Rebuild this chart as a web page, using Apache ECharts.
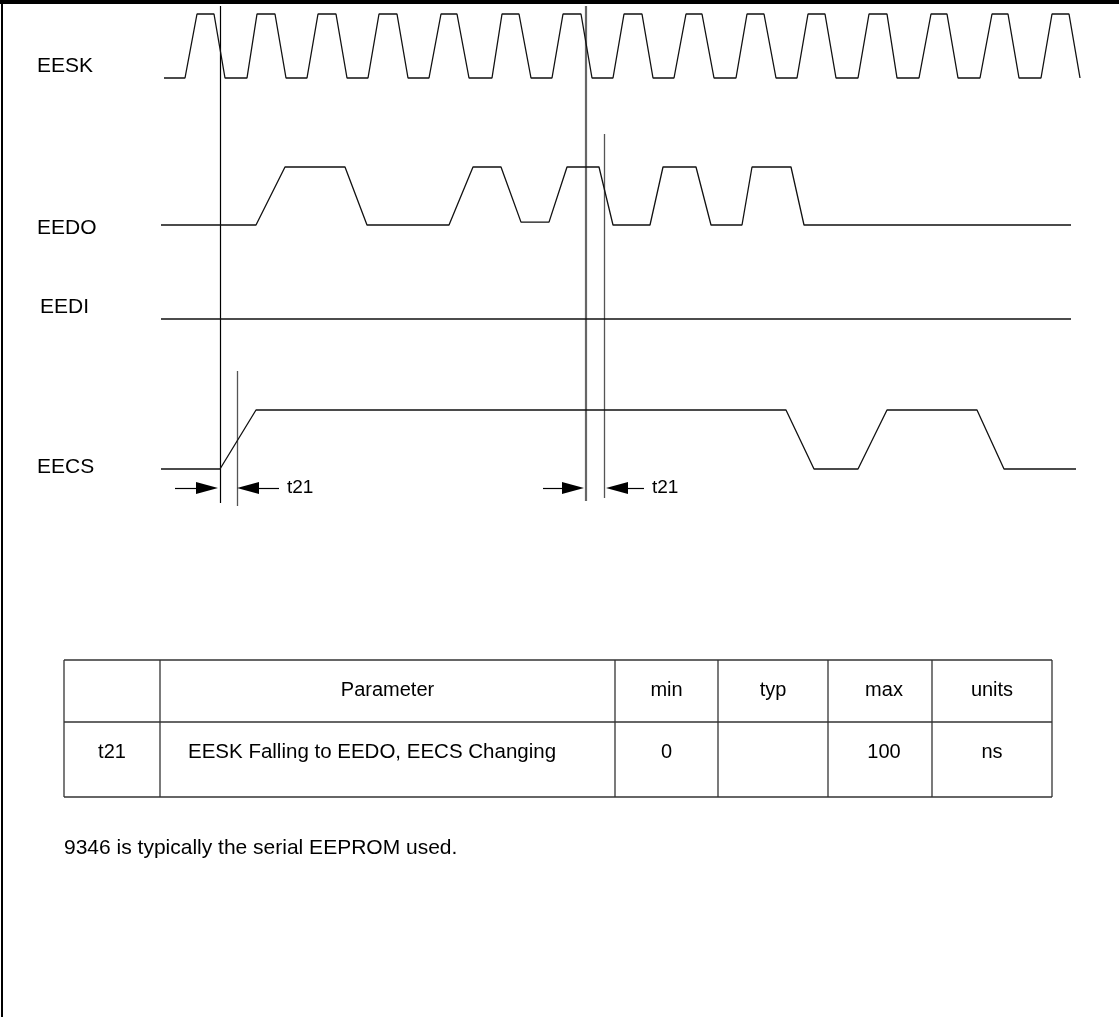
<!DOCTYPE html>
<html>
<head>
<meta charset="utf-8">
<script src="https://cdn.jsdelivr.net/npm/echarts@6/dist/echarts.min.js"></script>
<style>
  html, body { margin: 0; padding: 0; background: #fff; }
  #chart { width: 1119px; height: 1017px; }
</style>
</head>
<body>
<div id="chart"></div>
<script>
// signal names
const signals = ['EESK', 'EEDO', 'EEDI', 'EECS']

// waveform breakpoints: time and logic level (0 low, 1 high)
const eeskTimes = [164, 185, 197, 214, 225, 247, 257, 275, 286, 307, 318, 336, 347, 368, 379, 397,
  408, 429, 441, 457, 469, 492, 502, 519, 531, 552, 563, 581, 592, 613, 624, 642, 653, 674, 686,
  702, 714, 736, 747, 764, 776, 797, 808, 825, 836, 858, 869, 887, 897, 919, 931, 947, 958, 980,
  992, 1008, 1019, 1041, 1052, 1069, 1080]
const eeskLevels = [0, 0, 1, 1, 0, 0, 1, 1, 0, 0, 1, 1, 0, 0, 1, 1, 0, 0, 1, 1, 0, 0, 1, 1, 0, 0, 1,
  1, 0, 0, 1, 1, 0, 0, 1, 1, 0, 0, 1, 1, 0, 0, 1, 1, 0, 0, 1, 1, 0, 0, 1, 1, 0, 0, 1, 1, 0, 0, 1, 1, 0]

const eedoTimes = [161, 256, 285, 345, 367, 449, 473, 501, 521, 549, 567, 599, 613, 650, 663, 696,
  711, 742, 752, 791, 804, 1071]
const eedoLevels = [0, 0, 1, 1, 0, 0, 1, 1, 0.05, 0.05, 1, 1, 0, 0, 1, 1, 0, 0, 1, 1, 0, 0]

const eediTimes = [161, 1071]
const eediLevels = [0, 0]

const eecsTimes = [161, 220, 256, 786, 814, 858, 887, 977, 1004, 1076]
const eecsLevels = [0, 0, 1, 1, 0, 0, 1, 1, 0, 0]

// timing reference lines (time, from, to)
const markerTimes = [220, 237, 586, 604]
const markerFrom = [6, 371, 6, 134]
const markerTo = [503, 506, 501, 498]

// t21 dimension arrows (tail, tip)
const arrowTails = [175, 279, 543, 644]
const arrowTips = [218, 237, 584, 606]
const arrowLevel = 488
const arrowLabels = ['t21', 't21']

// parameter table
const tableHeader = ['', 'Parameter', 'min', 'typ', 'max', 'units']
const tableRow = ['t21', 'EESK Falling to EEDO, EECS Changing', '0', '', '100', 'ns']
const footnote = '9346 is typically the serial EEPROM used.'

const chart = echarts.init(document.getElementById('chart'))

const FONT = 'Liberation Sans, Arial, sans-serif'
const INK = '#111'
const HEAD = 22 // arrow head length

// one strip per signal, plus an overlay grid for markers/arrows
const strips = [
  { top: 14, height: 64 },
  { top: 167, height: 58 },
  { top: 261, height: 58 },
  { top: 410, height: 59 }
]
const grids = strips.map(s => ({ left: 0, right: 0, top: s.top, height: s.height }))
grids.push({ left: 0, right: 0, top: 0, bottom: 0 })

const xAxes = grids.map((g, i) => ({ type: 'value', gridIndex: i, min: 0, max: 1119, show: false }))
const yAxes = strips.map((s, i) => ({ type: 'value', gridIndex: i, min: 0, max: 1, show: false }))
yAxes.push({ type: 'value', gridIndex: 4, min: 0, max: 1017, inverse: true, show: false })

const waves = [
  [eeskTimes, eeskLevels],
  [eedoTimes, eedoLevels],
  [eediTimes, eediLevels],
  [eecsTimes, eecsLevels]
]

const series = waves.map(([times, levels], i) => ({
  name: signals[i],
  type: 'line',
  xAxisIndex: i,
  yAxisIndex: i,
  data: times.map((t, k) => [t, levels[k]]),
  showSymbol: false,
  clip: false,
  lineStyle: { color: INK, width: 1.3 },
  silent: true
}))

const markerColors = ['#000', '#555', '#666', '#555']
const markerWidths = [1.2, 1.3, 2.2, 1.3]
series.push({
  type: 'lines',
  coordinateSystem: 'cartesian2d',
  xAxisIndex: 4,
  yAxisIndex: 4,
  silent: true,
  data: markerTimes.map((t, i) => ({
    coords: [[t, markerFrom[i]], [t, markerTo[i]]],
    lineStyle: { color: markerColors[i], width: markerWidths[i], opacity: 1 }
  }))
})

// symbol is centred on the end point, so stop the shaft half a head short of the tip
series.push({
  type: 'lines',
  coordinateSystem: 'cartesian2d',
  xAxisIndex: 4,
  yAxisIndex: 4,
  silent: true,
  symbol: ['none', 'triangle'],
  symbolSize: [[12, HEAD], [12, HEAD]],
  lineStyle: { color: '#000', width: 1.2, opacity: 1 },
  data: arrowTails.map((t, i) => {
    const dir = Math.sign(arrowTips[i] - t)
    return { coords: [[t, arrowLevel], [arrowTips[i] - dir * HEAD / 2, arrowLevel]] }
  })
})

// labels for arrows sit just right of the left-pointing arrow tails
series.push({
  type: 'scatter',
  xAxisIndex: 4,
  yAxisIndex: 4,
  silent: true,
  symbolSize: 0,
  itemStyle: { opacity: 1 },
  data: [[arrowTails[1], arrowLevel], [arrowTails[3], arrowLevel]],
  label: {
    show: true,
    position: 'right',
    distance: 8,
    formatter: p => arrowLabels[p.dataIndex],
    color: '#000',
    opacity: 1,
    fontFamily: FONT,
    fontSize: 19
  }
})

// graphic: frame, signal names, table, footnote
const graphic = [
  { type: 'rect', shape: { x: 0, y: 0, width: 1119, height: 4 }, style: { fill: '#000' } },
  { type: 'rect', shape: { x: 1, y: 0, width: 2, height: 1017 }, style: { fill: '#000' } }
]

const labelPos = [[37, 66], [37, 228], [40, 307], [37, 467]]
signals.forEach((s, i) => {
  graphic.push({
    type: 'text',
    x: labelPos[i][0],
    y: labelPos[i][1],
    style: { text: s, fill: '#000', font: '21px ' + FONT, verticalAlign: 'middle' }
  })
})

const colEdges = [64, 160, 615, 718, 828, 932, 1052]
const rowEdges = [660, 722, 797]
const lineStyle = { stroke: '#333', lineWidth: 1.3 }
rowEdges.forEach(y => {
  graphic.push({ type: 'line', shape: { x1: colEdges[0], y1: y, x2: colEdges[6], y2: y }, style: lineStyle })
})
colEdges.forEach(x => {
  graphic.push({ type: 'line', shape: { x1: x, y1: rowEdges[0], x2: x, y2: rowEdges[2] }, style: lineStyle })
})
;[tableHeader, tableRow].forEach((row, r) => {
  const yc = r === 0 ? 690 : 752
  row.forEach((txt, c) => {
    if (!txt) return
    // the long description is left-set in its cell
    const left = r === 1 && c === 1
    graphic.push({
      type: 'text',
      x: left ? colEdges[c] + 28 : (colEdges[c] + colEdges[c + 1]) / 2 + (c === 4 ? 4 : 0),
      y: yc,
      style: { text: txt, fill: '#000', font: (left ? '20.5px ' : '20px ') + FONT, align: left ? 'left' : 'center', verticalAlign: 'middle' }
    })
  })
})

graphic.push({
  type: 'text',
  x: 64,
  y: 848,
  style: { text: footnote, fill: '#000', font: '21px ' + FONT, verticalAlign: 'middle' }
})

chart.setOption({
  animation: false,
  backgroundColor: '#fff',
  grid: grids,
  xAxis: xAxes,
  yAxis: yAxes,
  series: series,
  graphic: graphic
})
</script>
</body>
</html>
